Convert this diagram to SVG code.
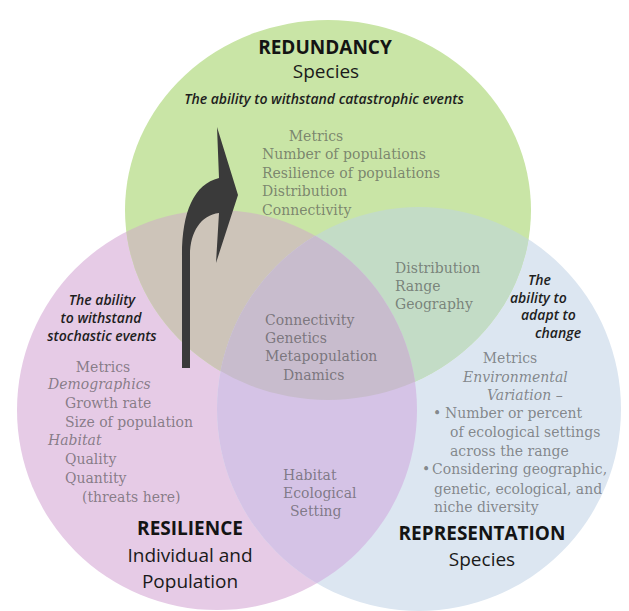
<svg xmlns="http://www.w3.org/2000/svg" width="629" height="611" viewBox="0 0 629 611">
<style>
.hd{font-family:"Open Sans","Liberation Sans",sans-serif;font-size:19px;font-weight:700;fill:#141414;text-anchor:middle}
.sub{font-family:"Open Sans","Liberation Sans",sans-serif;font-size:19px;fill:#1a1a1a;text-anchor:middle}
.ab{font-family:"Open Sans","Liberation Sans",sans-serif;font-size:14px;font-style:italic;font-weight:600;fill:#1e1e1e}
.m{font-family:"DejaVu Serif","Liberation Serif",serif;font-size:14px;fill:#4a4a4a;fill-opacity:0.62}
.mi{font-family:"DejaVu Serif","Liberation Serif",serif;font-size:14px;font-style:italic;fill:#4a4a4a;fill-opacity:0.62}
.c{text-anchor:middle}
</style>
<defs>
<clipPath id="cG"><ellipse cx="328" cy="210" rx="203" ry="190"/></clipPath>
<clipPath id="cP"><circle cx="217" cy="410" r="200"/></clipPath>
<clipPath id="cB"><circle cx="419" cy="409" r="202"/></clipPath>
</defs>
<rect width="629" height="611" fill="#ffffff"/>
<g id="regions">
<circle cx="217" cy="410" r="200" fill="#e6cbe6"/>
<circle cx="419" cy="409" r="202" fill="#dce6f1"/>
<ellipse cx="328" cy="210" rx="203" ry="190" fill="#c9e5a6"/>
<ellipse cx="328" cy="210" rx="203" ry="190" fill="#cdc4b9" clip-path="url(#cP)"/>
<ellipse cx="328" cy="210" rx="203" ry="190" fill="#c3dcc6" clip-path="url(#cB)"/>
<circle cx="217" cy="410" r="200" fill="#d5c3e6" clip-path="url(#cB)"/>
<g clip-path="url(#cB)"><ellipse cx="328" cy="210" rx="203" ry="190" fill="#c8bccd" clip-path="url(#cP)"/></g>
</g>
<g id="redundancy">
<text class="hd" x="325" y="54">REDUNDANCY</text>
<text class="sub" x="326" y="78">Species</text>
<text class="ab c" x="324" y="104">The ability to withstand catastrophic events</text>
<text class="m c" x="316" y="141">Metrics</text>
<text class="m" x="262" y="159">Number of populations</text>
<text class="m" x="262" y="178">Resilience of populations</text>
<text class="m" x="262" y="196">Distribution</text>
<text class="m" x="262" y="215">Connectivity</text>
</g>
<g id="redundancy-representation">
<text class="m" x="395" y="273">Distribution</text>
<text class="m" x="395" y="291">Range</text>
<text class="m" x="395" y="309">Geography</text>
</g>
<g id="representation">
<text class="ab" x="528" y="285">The</text>
<text class="ab" x="510" y="303">ability to</text>
<text class="ab" x="521" y="320">adapt to</text>
<text class="ab" x="535" y="338">change</text>
<text class="m c" x="510" y="363">Metrics</text>
<text class="mi" x="463" y="382">Environmental</text>
<text class="mi" x="487" y="400">Variation –</text>
<text class="m" x="433" y="418">•</text>
<text class="m" x="445" y="418">Number or percent</text>
<text class="m" x="450" y="437">of ecological settings</text>
<text class="m" x="450" y="456">across the range</text>
<text class="m" x="422" y="474">•</text>
<text class="m" x="432" y="474">Considering geographic,</text>
<text class="m" x="434" y="494">genetic, ecological, and</text>
<text class="m" x="434" y="512">niche diversity</text>
<text class="hd" x="482" y="540">REPRESENTATION</text>
<text class="sub" x="482" y="566">Species</text>
</g>
<g id="center">
<text class="m" x="265" y="325">Connectivity</text>
<text class="m" x="265" y="343">Genetics</text>
<text class="m" x="265" y="361">Metapopulation</text>
<text class="m" x="283" y="380">Dnamics</text>
</g>
<g id="resilience-representation">
<text class="m" x="283" y="480">Habitat</text>
<text class="m" x="283" y="498">Ecological</text>
<text class="m" x="290" y="516">Setting</text>
</g>
<g id="resilience">
<text class="ab c" x="102" y="305">The ability</text>
<text class="ab c" x="101" y="323">to withstand</text>
<text class="ab c" x="102" y="341">stochastic events</text>
<text class="m c" x="103" y="372">Metrics</text>
<text class="mi" x="48" y="389">Demographics</text>
<text class="m" x="65" y="408">Growth rate</text>
<text class="m" x="65" y="427">Size of population</text>
<text class="mi" x="48" y="445">Habitat</text>
<text class="m" x="65" y="464">Quality</text>
<text class="m" x="65" y="483">Quantity</text>
<text class="m" x="82" y="502">(threats here)</text>
<text class="hd" x="190" y="535">RESILIENCE</text>
<text class="sub" x="190" y="562">Individual and</text>
<text class="sub" x="190" y="588">Population</text>
</g>
<g id="connectors">
<path d="M182,368 L182,255 C182,212 194,184 219,178 L217,127 L238,195 L216,263 L219,213 C201,215 190,232 190,255 L190,368 Z" fill="#3a3a3a"/>
</g>
</svg>
